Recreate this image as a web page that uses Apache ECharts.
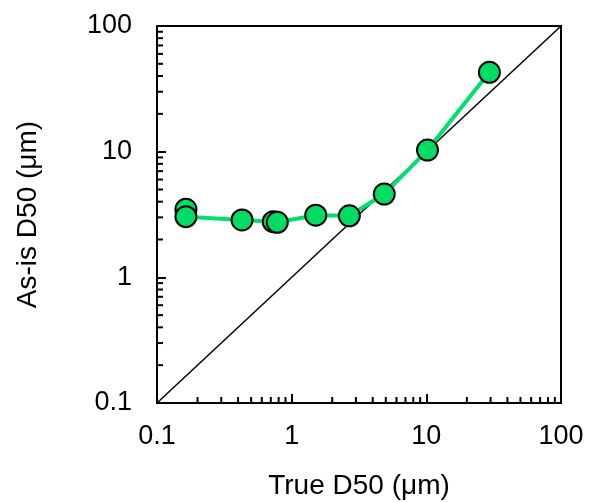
<!DOCTYPE html>
<html>
<head>
<meta charset="utf-8">
<script src="https://cdn.jsdelivr.net/npm/echarts@6/dist/echarts.min.js"></script>
<style>
html,body{margin:0;padding:0;background:#fff;}
#chart{width:591px;height:502px;}
</style>
</head>
<body>
<div id="chart"></div>
<script>
// Data
const trueD50 = [0.164, 0.164, 0.428, 0.73, 0.782, 1.51, 2.68, 4.87, 10.2, 29.4];
const asIsD50 = [3.48, 3.04, 2.86, 2.77, 2.74, 3.12, 3.09, 4.60, 10.3, 42.8];
const identityLine = [0.1, 100];
const minorTickValues = [0.2,0.3,0.4,0.5,0.6,0.7,0.8,0.9,2,3,4,5,6,7,8,9,20,30,40,50,60,70,80,90];

const FONT = 'Liberation Sans, Arial, sans-serif';
const chart = echarts.init(document.getElementById('chart'), null, {renderer:'canvas'});

function tickSeries(axis) {
  return {
    type: 'custom',
    coordinateSystem: 'cartesian2d',
    clip: false,
    silent: true,
    z: 5,
    data: minorTickValues.map(v => axis === 'x' ? [v, 0.1] : [0.1, v]),
    renderItem: function (params, api) {
      const p = api.coord([api.value(0), api.value(1)]);
      const shape = axis === 'x'
        ? {x1: p[0], y1: p[1], x2: p[0], y2: p[1] - 6}
        : {x1: p[0], y1: p[1], x2: p[0] + 6, y2: p[1]};
      return {type: 'line', shape: shape, style: {stroke: '#000', lineWidth: 2}};
    }
  };
}

chart.setOption({
  animation: false,
  backgroundColor: '#fff',
  grid: {left: 157, right: 30, top: 26, bottom: 99, show: true, borderColor: '#000', borderWidth: 2,
         containLabel: false, outerBoundsMode: 'none'},
  xAxis: {
    type: 'log', logBase: 10, min: 0.1, max: 100,
    name: 'True D50 (μm)', nameLocation: 'middle', nameGap: 69,
    nameTextStyle: {color: '#000', fontSize: 28, fontFamily: FONT},
    axisLine: {show: true, lineStyle: {color: '#000', width: 2}},
    axisTick: {show: true, inside: true, length: 9, lineStyle: {color: '#000', width: 2}},
    axisLabel: {color: '#000', fontSize: 27, fontFamily: FONT, margin: 20},
    splitLine: {show: false}
  },
  yAxis: {
    type: 'log', logBase: 10, min: 0.1, max: 100,
    name: 'As-is D50 (μm)', nameLocation: 'middle', nameGap: 115,
    nameTextStyle: {color: '#000', fontSize: 28, fontFamily: FONT},
    axisLine: {show: true, lineStyle: {color: '#000', width: 2}},
    axisTick: {show: true, inside: true, length: 9, lineStyle: {color: '#000', width: 2}},
    axisLabel: {color: '#000', fontSize: 27, fontFamily: FONT, margin: 25},
    splitLine: {show: false}
  },
  series: [
    {
      type: 'line',
      data: identityLine.map(v => [v, v]),
      showSymbol: false,
      symbol: 'none',
      lineStyle: {color: '#000', width: 1.5},
      silent: true,
      z: 2
    },
    {
      type: 'line',
      data: trueD50.map((x, i) => [x, asIsD50[i]]),
      symbol: 'circle',
      symbolSize: 21,
      lineStyle: {color: '#00e070', width: 4},
      itemStyle: {color: '#00dc64', borderColor: '#000', borderWidth: 2},
      z: 3
    },
    tickSeries('x'),
    tickSeries('y')
  ]
});
</script>
</body>
</html>
